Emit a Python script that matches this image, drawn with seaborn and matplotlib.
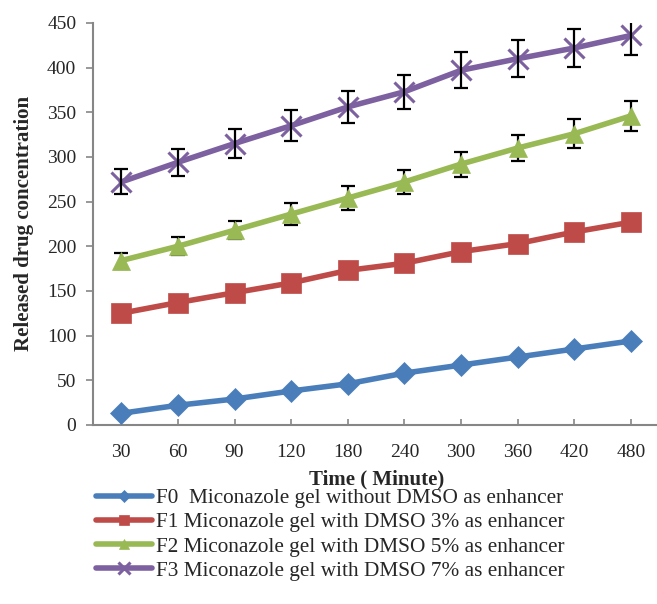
import matplotlib
matplotlib.use("Agg")
import matplotlib.pyplot as plt
import seaborn as sb
import numpy as np

# Waarden
times = ["30", "60", "90", "120", "180", "240", "300", "360", "420", "480"]
f0 = [13, 22, 29, 38, 46, 58, 67, 76, 85, 94]
f1 = [125, 137, 148, 159, 173, 181, 194, 203, 216, 227]
f2 = [184, 200, 218, 236, 254, 272, 292, 310, 326, 346]
f3 = [272, 294, 315, 335, 356, 373, 397, 410, 422, 436]
f1_err = [2, 2, 2, 2, 2, 2, 3, 3, 8, 8]
f2_err = [9, 10, 10, 12, 13, 13, 14, 15, 16, 17]
f3_err = [14, 15, 16, 17, 18, 19, 20, 21, 21, 22]

labels = ["F0  Miconazole gel without DMSO as enhancer",
          "F1 Miconazole gel with DMSO 3% as enhancer",
          "F2 Miconazole gel with DMSO 5% as enhancer",
          "F3 Miconazole gel with DMSO 7% as enhancer"]
colors = ["#4A7EBB", "#BE4B48", "#98B954", "#7D60A0"]
markers = ["D", "s", "^", "x"]
msizes = [11, 14, 13, 15]

sb.set_style("ticks")
plt.rcParams["font.family"] = ["Liberation Serif", "DejaVu Serif"]

fig = plt.figure(figsize=(6.57, 6.04), dpi=100)
ax = fig.add_axes([0.1415, 0.2965, 0.862, 0.6655])

series = [f0, f1, f2, f3]
errs = [None, f1_err, f2_err, f3_err]
for vals, err, lab, col, mk, ms in zip(series, errs, labels, colors, markers, msizes):
    sb.lineplot(x=times, y=vals, ax=ax, color=col, marker=mk, markersize=ms,
                linewidth=4, label=lab, markeredgecolor=col,
                markeredgewidth=2.2 if mk == "x" else 0.5, sort=False, zorder=3)
    if err is not None:
        ax.errorbar(times, vals, yerr=err, fmt="none", ecolor="black",
                    elinewidth=1.6, capsize=5, capthick=1.6,
                    zorder=4 if mk == "x" else 2)

ax.set_xlim(-0.5, 9.5)
ax.set_ylim(0, 450)
ax.set_yticks(np.arange(0, 451, 50))
ax.set_xlabel("Time ( Minute)", fontsize=15, fontweight="bold", labelpad=6)
ax.set_ylabel("Released drug concentration", fontsize=15, fontweight="bold", labelpad=9)
ax.tick_params(axis="both", labelsize=14, color="#868686", width=1.2)
ax.tick_params(axis="y", length=5, pad=7)
ax.tick_params(axis="x", direction="in", length=4, pad=14)
for s in ["top", "right"]:
    ax.spines[s].set_visible(False)
for s in ["left", "bottom"]:
    ax.spines[s].set_color("#868686")
    ax.spines[s].set_linewidth(1.5)

ax.legend(loc="upper left", bbox_to_anchor=(-0.01, -0.137), frameon=False,
          fontsize=15.3, handlelength=2.65, handletextpad=0.2, labelspacing=0.2,
          markerscale=0.55, borderaxespad=0)

fig.savefig("out.png", dpi=100)
